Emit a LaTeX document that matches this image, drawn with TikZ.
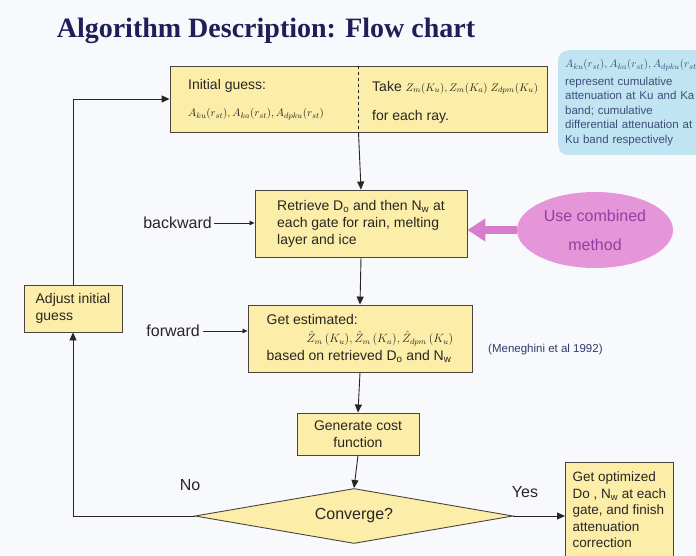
\documentclass[tikz,border=0pt]{standalone}
\usepackage{fontspec}
\setmainfont{Liberation Sans}
\newfontfamily\titlefamily{Liberation Serif}
\usetikzlibrary{shapes.geometric,arrows.meta}

\definecolor{colorBG}{RGB}{248,249,252}
\definecolor{colorBOX}{RGB}{252,238,168}
\definecolor{colorEDGE}{RGB}{75,68,62}
\definecolor{colorTXT}{RGB}{40,38,36}
\definecolor{colorNOTE}{RGB}{192,228,242}
\definecolor{colorNOTETXT}{RGB}{62,78,122}
\definecolor{colorTITLE}{RGB}{30,30,88}
\definecolor{colorUSE}{RGB}{228,150,216}
\definecolor{colorUSETXT}{RGB}{150,62,160}
\definecolor{colorPUSH}{RGB}{216,124,204}
\definecolor{colorREF}{RGB}{48,58,110}

\newcommand{\boxfont}{\fontsize{14}{17}\selectfont}
\newcommand{\lblfont}{\fontsize{16}{19}\selectfont}
\newcommand{\mathfont}[1]{\fontsize{#1}{#1}\selectfont}
\newcommand{\Ast}[1]{A_{#1}(r_{st})}

\tikzset{
   every path/.style={>={Triangle[length=8pt,width=7pt]}},
   box/.style={draw=colorEDGE,fill=colorBOX,line width=0.9pt,inner sep=0pt,
               text=colorTXT,font=\boxfont,align=left},
   boxtxt/.style={text=colorTXT,inner sep=0pt,align=left},
   lbl/.style={text=colorTXT,font=\lblfont,inner sep=0pt},
   flow/.style={->,color=colorTXT,line width=0.9pt},
   flowsm/.style={-{Triangle[length=5pt,width=4.5pt]},color=colorTXT,line width=0.8pt},
   divider/.style={dashed,color=colorTXT,line width=0.7pt},
   push/.style={-{Triangle[length=18pt,width=22pt]},color=colorPUSH,line width=8pt},
}

\begin{document}
\begin{tikzpicture}[x=1pt,y=-1pt]
  \useasboundingbox (0,0) rectangle (696,556);
  \clip (0,0) rectangle (696,556);
  \fill[colorBG] (0,0) rectangle (696,556);

  \node[anchor=base,text=colorTITLE,font=\titlefamily\bfseries\fontsize{28}{32}\selectfont] (title) at (266,38) {Algorithm Description: Flow chart};

  % initial guess
  \node[box,minimum width=377pt,minimum height=66pt] (top) at (358.5,99) {};
  \draw[divider] (top.north) -- (top.south);
  \node[boxtxt,anchor=west,font=\fontsize{14}{27}\selectfont] (guess) at (188,100)
    {Initial guess:\\ {\mathfont{11}$\Ast{ku},\Ast{ka},\Ast{dpku}$}};
  \node[boxtxt,anchor=west,font=\fontsize{14}{29}\selectfont] (take) at (372,102)
    {Take {\mathfont{11}$Z_m(K_u),Z_m(K_a)\;Z_{dpm}(K_u)$}\\for each ray.};

  \node[anchor=north west,fill=colorNOTE,rounded corners=10pt,inner xsep=7pt,inner ysep=0pt,
        minimum height=105pt,text width=170pt,align=left,text=colorNOTETXT,
        font=\fontsize{11.5}{14.5}\selectfont] (note) at (558,50)
    {{\mathfont{11}$\Ast{ku},\Ast{ka},\Ast{dpku}$}\\[3pt]
     represent cumulative\\attenuation at Ku and Ka\\band; cumulative\\
     differential attenuation at\\Ku band respectively};

  % retrieval and forward model
  \node[box,minimum width=212pt,minimum height=67pt] (ret) at (361,223.5)
    {Retrieve D\textsubscript{o} and then N\textsubscript{w} at\\each gate for rain, melting\\layer and ice};
  \node[lbl,anchor=east] (bwd) at (212,223) {backward};
  \node[ellipse,fill=colorUSE,minimum width=156pt,minimum height=76pt,inner sep=0pt,
        text=colorUSETXT,align=center,font=\fontsize{16}{29}\selectfont] (use) at (595,230)
    {Use combined\\method};

  \node[box,minimum width=224pt,minimum height=67pt] (est) at (360,338.5)
    {Get estimated:\\[1pt]
     \hspace*{40pt}{\mathfont{12}$\hat Z_m\,(K_u),\hat Z_m\,(K_a),\hat Z_{dpm}\,(K_u)$}\\[1pt]
     based on retrieved D\textsubscript{o} and N\textsubscript{w}};
  \node[lbl,anchor=east] (fwd) at (200,331) {forward};
  \node[anchor=west,inner sep=0pt,text=colorREF,font=\fontsize{11.5}{14}\selectfont] (ref) at (488,350)
    {(Meneghini et al 1992)};

  \node[box,minimum width=98pt,minimum height=47pt] (adj) at (73,308.5) {Adjust initial\\guess};

  % cost and test
  \node[box,minimum width=122pt,minimum height=42pt,align=center] (cost) at (358,434)
    {Generate cost\\function};
  \node[diamond,draw=colorEDGE,fill=colorBOX,line width=0.9pt,inner sep=0pt,aspect=5.8,
        minimum width=318pt,minimum height=55pt,text=colorTXT,font=\lblfont] (conv) at (354,516)
    {Converge?};
  \node[box,anchor=north west,minimum width=108pt,minimum height=95pt,
        font=\fontsize{13.5}{16.5}\selectfont] (fin) at (565,462)
    {Get optimized\\Do , N\textsubscript{w} at each\\gate, and finish\\attenuation\\correction};
  \node[lbl] (no) at (190,485) {No};
  \node[lbl] (yes) at (525,492) {Yes};

  \draw[flow] (top.south) -- (ret.north);
  \draw[flow] (ret.south) -- (est.north);
  \draw[flow] (est.south) -- (cost.north);
  \draw[flow] (cost.south) -- (conv.north);
  \draw[flow] (conv.east) -- (fin.west |- conv.east);
  \draw[flow] (conv.west) -| (adj.south);
  \draw[flow] (adj.north) |- (top.west);
  \draw[flowsm] ([xshift=2pt]bwd.east) -- (bwd -| ret.west);
  \draw[flowsm] ([xshift=3pt]fwd.east) -- (fwd -| est.west);
  \draw[push] (use.west) -- (use.west -| ret.east);
\end{tikzpicture}
\end{document}
